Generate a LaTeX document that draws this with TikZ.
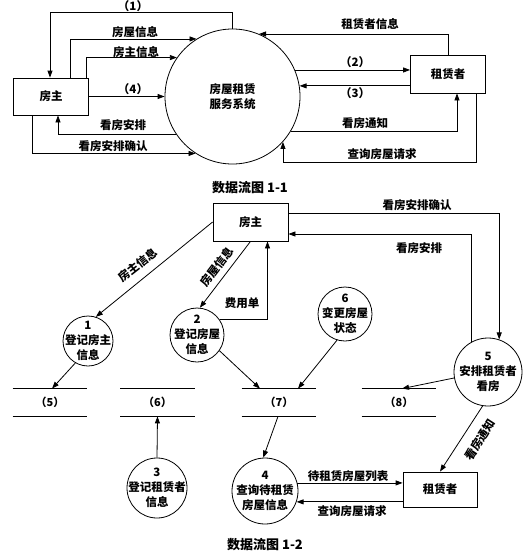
\documentclass[tikz,border=0pt]{standalone}
\usepackage{fontspec}
\setmainfont{Noto Sans CJK SC}
\usetikzlibrary{arrows.meta}

\begin{document}
\begin{tikzpicture}[x=1pt, y=-1pt, line width=0.8pt,
    flow/.style={-{Triangle[length=7pt, width=5pt]}},
    entity/.style={draw, minimum width=75pt, minimum height=37pt, font=\fontsize{11.5}{13}\selectfont\bfseries},
    proc/.style={draw, circle, inner sep=0pt, minimum size=#1},
    ptext/.style={align=center, inner sep=0pt, font=\fontsize{11.5}{15}\selectfont\bfseries},
    store/.style={minimum width=74pt, minimum height=27pt, inner sep=0pt, font=\fontsize{11}{13}\selectfont\bfseries},
    lbl/.style={inner sep=1pt, font=\fontsize{11.5}{13}\selectfont\bfseries},
    title/.style={font=\fontsize{13}{15}\selectfont\bfseries}]
    \useasboundingbox (0,0) rectangle (530,554);

    \node[entity] (owner1) at (51,96.5) {房主};
    \node[entity, minimum height=38pt] (renter1) at (448,74) {租赁者};
    \node[proc=135pt, label={[ptext]center:{房屋租赁\\服务系统}}] (sys) at (232.5,96.5) {};

    \draw[flow] (sys.north) -- ++(0,-16) -| ([xshift=-1pt]owner1.north);
    \draw[flow] ([xshift=19pt]owner1.north) |- (sys.122);
    \draw[flow] ([xshift=35pt]owner1.north) |- (sys.145);
    \draw[flow] (owner1.east) -- (sys.west);
    \draw[flow] (sys.214) -| ([xshift=7pt]owner1.south);
    \draw[flow] ([xshift=-19pt]owner1.south) |- (sys.237);
    \draw[flow] (renter1.north) |- (sys.67);
    \draw[flow] (sys.23) -- (sys.23 -| renter1.west);
    \draw[flow] (renter1.west |- sys.9) -- (sys.9);
    \draw[flow] (sys.-31) -| ([xshift=9pt]renter1.south);
    \draw[flow] ([xshift=28pt]renter1.south) -- ++(0,69) -| (sys.-42);

    \node[lbl] (n1) at (133,6) {（1）};
    \node[lbl] (n2) at (135,32) {房屋信息};
    \node[lbl] (n3) at (136,52) {房主信息};
    \node[lbl] (n4) at (133,89) {（4）};
    \node[lbl] (n5) at (123,125) {看房安排};
    \node[lbl] (n6) at (113,146) {看房安排确认};
    \node[lbl] (n7) at (370,24) {租赁者信息};
    \node[lbl] (n8) at (355,62) {（2）};
    \node[lbl] (n9) at (355,93) {（3）};
    \node[lbl] (n10) at (365,123) {看房通知};
    \node[lbl] (n11) at (382,154) {查询房屋请求};
    \node[title] (t1) at (250,188) {数据流图 1-1};

    \node[entity, minimum height=38pt] (owner2) at (250.5,222) {房主};
    \node[entity, minimum width=74pt, minimum height=35pt] (renter2) at (440,489.5) {租赁者};
    \node[proc=50pt, label={[ptext]center:{1\\登记房主\\信息}}] (c1) at (88,341) {};
    \node[proc=54pt, label={[ptext]center:{2\\登记房屋\\信息}}] (c2) at (197,335) {};
    \node[proc=60pt, label={[ptext]center:{3\\登记租赁者\\信息}}] (c3) at (157,488) {};
    \node[proc=66pt, label={[ptext]center:{4\\查询待租赁\\房屋信息}}] (c4) at (265,491) {};
    \node[proc=68pt, label={[ptext]center:{5\\安排租赁者\\看房}}] (c5) at (488,372) {};
    \node[proc=54pt, label={[ptext]center:{6\\变更房屋\\状态}}] (c6) at (345,314) {};

    \foreach \st/\x/\n in {s5/50/5, s6/157.5/6, s7/279/7, s8/399/8} {
        \node[store] (\st) at (\x,402.5) {（\n）};
        \draw (\st.north west) -- (\st.north east) (\st.south west) -- (\st.south east);
    }

    \draw[flow] (owner2.west) -- (c1.72);
    \draw[flow] (owner2.south) -- (c2.84);
    \draw[flow] (c2.34) -| ([xshift=17pt]owner2.south);
    \draw[flow] ([yshift=9pt]owner2.east) -| (c5.71);
    \draw[flow] (c5.118) |- ([yshift=-12pt]owner2.east);
    \draw[flow] (c1.240) -- ([xshift=2pt]s5.north);
    \draw[flow] (c2.-35) -- ([xshift=-19pt]s7.north);
    \draw[flow] (c6.-107) -- ([xshift=19pt]s7.north);
    \draw[flow] (c5.190) -- ([xshift=3pt]s8.north);
    \draw[flow] (c3.north) -- (s6.south);
    \draw[flow] ([xshift=-1pt]s7.south) -- (c4.93);
    \draw[flow] (c5.-99) -- (renter2.north);
    \draw[flow] (c4.14) -- (c4.14 -| renter2.west);
    \draw[flow] (renter2.west |- c4.-19) -- (c4.-19);

    \node[lbl, rotate=38] (m1) at (138,265) {房主信息};
    \node[lbl, rotate=53] (m2) at (217,267) {房屋信息};
    \node[lbl] (m3) at (242,303) {费用单};
    \node[lbl] (m4) at (417,205) {看房安排确认};
    \node[lbl] (m5) at (419,248) {看房安排};
    \node[lbl, rotate=57] (m6) at (480,440) {看房通知};
    \node[lbl] (m7) at (348,476) {待租赁房屋列表};
    \node[lbl] (m8) at (352,511) {查询房屋请求};
    \node[title] (t2) at (265,545) {数据流图 1-2};
\end{tikzpicture}
\end{document}
